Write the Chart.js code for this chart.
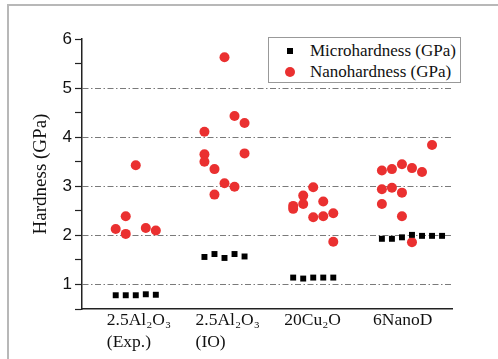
<!DOCTYPE html>
<html>
<head>
<meta charset="utf-8">
<script src="https://cdn.jsdelivr.net/npm/chart.js@4.4.1/dist/chart.umd.min.js"></script>
<style>
  body { margin: 0; background: #fff; }
  #wrap { position: relative; width: 498px; height: 359px; overflow: hidden; }
  #frame { position: absolute; left: 7px; top: 4px; width: 600px; height: 600px;
           border-top: 2px solid #b8b8b8; border-left: 2px solid #b8b8b8; }
  #grafico { position: absolute; left: 0; top: 0; }
  #legenda { position: absolute; left: 268px; top: 37px; width: 191px; height: 44px;
             border: 1px solid #999; background: #fff;
             font: 17px "Liberation Serif", "Times New Roman", serif; color: #111; }
  .linha { position: absolute; left: 0; height: 20px; line-height: 20px; width: 100%; }
  .linha span.txt { position: absolute; left: 41px; top: 0; white-space: nowrap; }
  .quad { position: absolute; left: 18px; top: 7px; width: 6px; height: 6px; background: #000; }
  .circ { position: absolute; left: 16px; top: 5px; width: 10px; height: 10px; border-radius: 50%; background: #ea3030; }
</style>
</head>
<body>
<div id="wrap">
  <div id="frame"></div>
  <canvas id="grafico" width="498" height="359"></canvas>
  <div id="legenda">
    <div class="linha" style="top:3px"><div class="quad"></div><span class="txt">Microhardness (GPa)</span></div>
    <div class="linha" style="top:24px"><div class="circ"></div><span class="txt">Nanohardness (GPa)</span></div>
  </div>
</div>
<script>
// categorias do eixo x
const categorias = [
    ['2.5Al₂O₃', '(Exp.)'],
    ['2.5Al₂O₃', '(IO)'],
    ['20Cu₂O'],
    ['6NanoD']
];

// microdureza (GPa), uma coluna por medida
const microDureza = [
    [0.78, 0.78, 0.78, 0.80, 0.79],
    [1.56, 1.62, 1.54, 1.62, 1.57],
    [1.14, 1.12, 1.14, 1.14, 1.14],
    [1.93, 1.93, 1.96, 2.01, 1.99, 1.99, 1.99]
];

// nanodureza (GPa) e a coluna de cada medida dentro do grupo
const nanoDureza = [
    [2.13, 2.39, 2.03, 3.43, 2.15, 2.10],
    [4.11, 3.65, 3.50, 3.35, 2.83, 5.63, 3.06, 4.43, 2.99, 4.29, 3.67],
    [2.60, 2.54, 2.81, 2.64, 2.98, 2.37, 2.69, 2.39, 2.45, 1.87],
    [3.32, 2.94, 2.64, 3.35, 2.97, 3.45, 2.87, 2.39, 3.37, 1.86, 3.29, 3.84]
];
const nanoColuna = [
    [0, 1, 1, 2, 3, 4],
    [0, 0, 0, 1, 1, 2, 2, 3, 3, 4, 4],
    [0, 0, 1, 1, 2, 2, 3, 3, 4, 4],
    [0, 0, 0, 1, 1, 2, 2, 2, 3, 3, 4, 5]
];

const passoColuna = 0.113;
const yTicks = [1, 2, 3, 4, 5, 6];

// montar os pontos a partir dos arrays
const pontosMicro = [];
microDureza.forEach((grupo, g) => {
    grupo.forEach((v, c) => pontosMicro.push({ x: g + 1 + c * passoColuna, y: v }));
});
const pontosNano = [];
nanoDureza.forEach((grupo, g) => {
    grupo.forEach((v, i) => pontosNano.push({ x: g + 1 + nanoColuna[g][i] * passoColuna, y: v }));
});

const ctx = document.getElementById('grafico').getContext('2d');
new Chart(ctx, {
    type: 'scatter',
    data: {
        datasets: [{
            label: 'Microhardness (GPa)',
            data: pontosMicro,
            pointStyle: 'rect',
            pointRadius: 4.2,
            backgroundColor: '#000',
            borderWidth: 0
        }, {
            label: 'Nanohardness (GPa)',
            data: pontosNano,
            pointStyle: 'circle',
            pointRadius: 5,
            backgroundColor: '#ea3030',
            borderWidth: 0
        }]
    },
    options: {
        responsive: false,
        animation: false,
        layout: { padding: { top: 39, right: 46, bottom: 0, left: 0 } },
        plugins: {
            legend: { display: false },
            tooltip: { enabled: false }
        },
        scales: {
            x: {
                type: 'linear',
                min: 0.62,
                max: 4.79,
                afterFit: s => { s.height = 50; },
                afterBuildTicks: s => { s.ticks = categorias.map((c, i) => ({ value: i + 0.9 })); },
                grid: { display: false, drawTicks: false },
                border: { display: true, color: '#222', width: 1.5 },
                ticks: {
                    autoSkip: false,
                    maxRotation: 0,
                    minRotation: 0,
                    align: 'start',
                    padding: 1,
                    color: '#111',
                    font: { family: '"Liberation Serif", serif', size: 17.5, lineHeight: 1.24 },
                    callback: (v, i) => categorias[i]
                }
            },
            y: {
                min: 0.5,
                max: 6,
                afterFit: s => { s.width = 82; },
                grid: {
                    color: c => (c.tick && yTicks.includes(c.tick.value) && c.tick.value < 6) ? '#7a7a7a' : 'rgba(0,0,0,0)',
                    lineWidth: 1,
                    tickColor: '#222',
                    tickLength: 7,
                    tickWidth: 1.2
                },
                border: { display: true, color: '#222', width: 1.5, dash: [6, 2.5, 1.5, 2.5] },
                title: {
                    display: true,
                    text: 'Hardness (GPa)',
                    color: '#111',
                    font: { family: '"Liberation Serif", serif', size: 19 },
                    padding: { top: 30, bottom: 0 }
                },
                ticks: {
                    stepSize: 0.5,
                    padding: 3,
                    color: '#111',
                    font: { family: '"Liberation Sans", Arial, sans-serif', size: 17 },
                    callback: v => (v % 1 === 0 ? v : '')
                }
            }
        }
    }
});
</script>
</body>
</html>
